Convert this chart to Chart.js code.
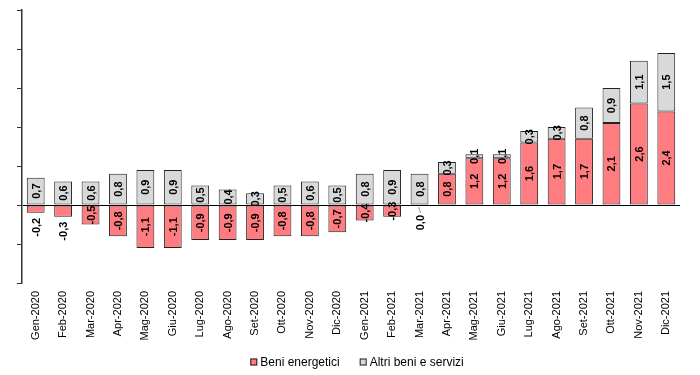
<!DOCTYPE html>
<html>
<head>
<meta charset="utf-8">
<script src="https://cdn.jsdelivr.net/npm/chart.js@4"></script>
<style>
  html, body { margin: 0; padding: 0; background: #fff; }
  #wrap { width: 700px; height: 375px; }
</style>
</head>
<body>
<div id="wrap"><canvas id="chart"></canvas></div>
<script>
const months = ["Gen-2020", "Feb-2020", "Mar-2020", "Apr-2020", "Mag-2020", "Giu-2020",
    "Lug-2020", "Ago-2020", "Set-2020", "Ott-2020", "Nov-2020", "Dic-2020",
    "Gen-2021", "Feb-2021", "Mar-2021", "Apr-2021", "Mag-2021", "Giu-2021",
    "Lug-2021", "Ago-2021", "Set-2021", "Ott-2021", "Nov-2021", "Dic-2021"];
const beniEnergetici = [-0.2, -0.3, -0.5, -0.8, -1.1, -1.1, -0.9, -0.9, -0.9, -0.8, -0.8, -0.7,
    -0.4, -0.3, 0.0, 0.8, 1.2, 1.2, 1.6, 1.7, 1.7, 2.1, 2.6, 2.4];
const altriBeni = [0.7, 0.6, 0.6, 0.8, 0.9, 0.9, 0.5, 0.4, 0.3, 0.5, 0.6, 0.5,
    0.8, 0.9, 0.8, 0.3, 0.1, 0.1, 0.3, 0.3, 0.8, 0.9, 1.1, 1.5];
const yTicks = [-2, -1, 0, 1, 2, 3, 4, 5];

// labels drawn below the bar instead of centred in it
const labelsBelow = [0, 1, 14];

const fontFamily = "Arial, 'Liberation Sans', sans-serif";

const barLabels = {
    id: 'barLabels',
    afterDatasetsDraw(chart) {
        const ctx = chart.ctx;
        ctx.save();
        ctx.font = "bold 11px " + fontFamily;
        ctx.fillStyle = '#000';
        ctx.textBaseline = 'middle';
        chart.data.datasets.forEach((ds, di) => {
            const meta = chart.getDatasetMeta(di);
            meta.data.forEach((bar, i) => {
                const v = ds.data[i];
                const txt = v.toFixed(1).replace('.', ',');
                const top = Math.min(bar.y, bar.base);
                const bottom = Math.max(bar.y, bar.base);
                ctx.save();
                if (di === 0 && labelsBelow.includes(i)) {
                    ctx.translate(bar.x, bottom + (v === 0 ? 10 : 5));
                    ctx.rotate(-Math.PI / 2);
                    ctx.textAlign = 'right';
                } else {
                    ctx.translate(bar.x, (top + bottom) / 2);
                    ctx.rotate(-Math.PI / 2);
                    ctx.textAlign = 'center';
                }
                ctx.fillText(txt, 0, 1);
                ctx.restore();
                if (di === 0 && v === 0) {
                    // small leader line to the "0,0" label
                    ctx.save();
                    ctx.strokeStyle = '#999';
                    ctx.lineWidth = 1;
                    ctx.beginPath();
                    ctx.moveTo(bar.x - 1, bottom + 2);
                    ctx.lineTo(bar.x + 1, bottom + 8);
                    ctx.stroke();
                    ctx.restore();
                }
            });
        });
        ctx.restore();
    }
};

// legend at the bottom, Excel style
const bottomLegend = {
    id: 'bottomLegend',
    afterDraw(chart) {
        const ctx = chart.ctx;
        ctx.save();
        ctx.font = "12px " + fontFamily;
        ctx.textBaseline = 'middle';
        ctx.textAlign = 'left';
        const items = chart.data.datasets.map(ds => ({
            text: ds.label, color: ds.backgroundColor, w: ctx.measureText(ds.label).width
        }));
        const box = 7, gapText = 3, gapItem = 20;
        let total = 0;
        items.forEach((it, i) => { total += box + gapText + it.w + (i ? gapItem : 0); });
        let x = 357 - total / 2;
        const y = 362;
        items.forEach(it => {
            ctx.fillStyle = it.color;
            ctx.fillRect(x, y - box / 2, box, box);
            ctx.strokeStyle = '#222';
            ctx.lineWidth = 1;
            ctx.strokeRect(x + 0.5, y - box / 2 + 0.5, box - 1, box - 1);
            ctx.fillStyle = '#000';
            ctx.fillText(it.text, x + box + gapText, y + 1);
            x += box + gapText + it.w + gapItem;
        });
        ctx.restore();
    }
};

new Chart(document.getElementById('chart'), {
    type: 'bar',
    data: {
        labels: months,
        datasets: [
            {
                label: "Beni energetici",
                data: beniEnergetici,
                backgroundColor: "#FF7C80",
                borderColor: "#222",
                borderWidth: 1,
                borderSkipped: false
            },
            {
                label: "Altri beni e servizi",
                data: altriBeni,
                backgroundColor: "#D9D9D9",
                borderColor: "#222",
                borderWidth: 1,
                borderSkipped: false
            }
        ]
    },
    options: {
        responsive: true,
        maintainAspectRatio: false,
        animation: false,
        layout: { padding: { top: 10, right: 20, left: 0, bottom: 0 } },
        datasets: {
            bar: { categoryPercentage: 1, barPercentage: 0.65 }
        },
        scales: {
            x: {
                stacked: true,
                afterFit: (scale) => { scale.height = 92; },
                grid: { display: false },
                border: { display: false },
                ticks: {
                    autoSkip: false,
                    maxRotation: 90,
                    minRotation: 90,
                    padding: 0,
                    color: '#000',
                    font: { family: fontFamily, size: 11 }
                }
            },
            y: {
                stacked: true,
                min: -2,
                max: 5,
                afterBuildTicks: (scale) => {
                    scale.ticks = yTicks.map(v => ({ value: v }));
                },
                afterFit: (scale) => { scale.width = 22; },
                ticks: { display: false },
                grid: {
                    color: (c) => (c.tick && c.tick.value === 0 ? '#000' : 'rgba(0,0,0,0)'),
                    lineWidth: 1,
                    drawTicks: true,
                    tickLength: 5,
                    tickColor: '#333'
                },
                border: { display: true, color: '#333', width: 1.5 }
            }
        },
        plugins: {
            legend: { display: false },
            tooltip: { enabled: false }
        }
    },
    plugins: [barLabels, bottomLegend]
});
</script>
</body>
</html>
